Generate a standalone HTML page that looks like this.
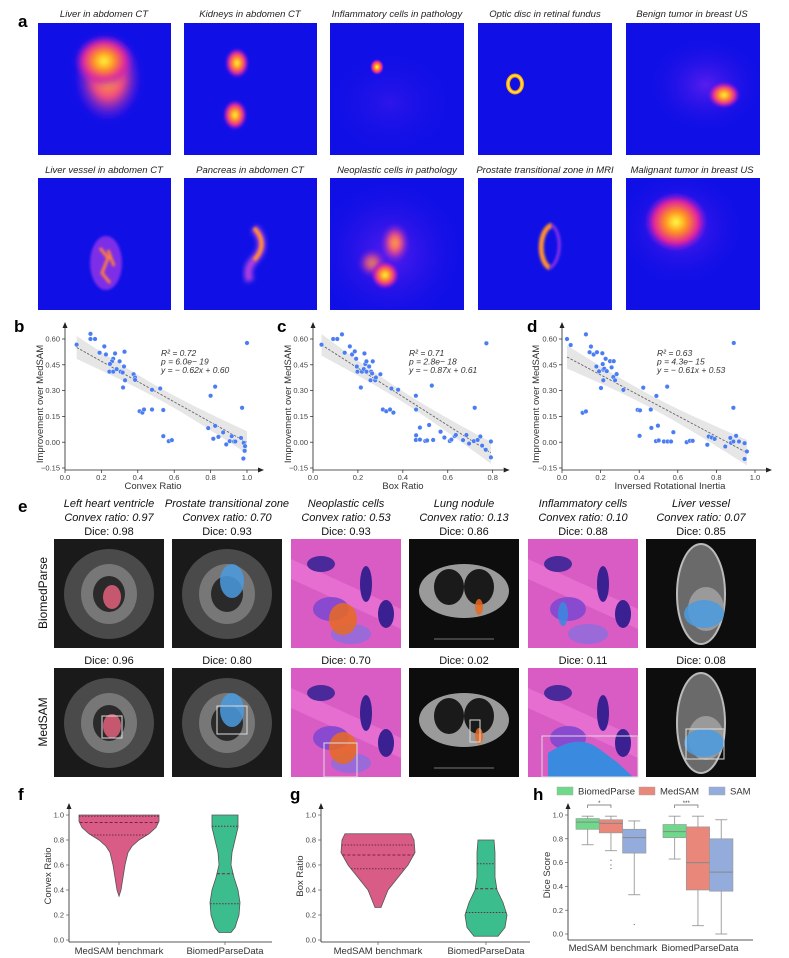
<!DOCTYPE html>
<html><head><meta charset="utf-8"><style>
html,body{margin:0;padding:0;background:#fff;}
svg{display:block;font-family:"Liberation Sans",sans-serif;}
.pl{font-weight:bold;font-size:17px;fill:#000;}
.al{font-style:italic;font-size:9.5px;fill:#222;}
.tk{font-size:7.5px;fill:#444;}
.at{font-size:9.5px;fill:#333;}
.et{font-style:italic;font-size:11px;fill:#111;}
.dc{font-size:11px;fill:#111;}
</style></head><body>
<svg id="fig" width="789" height="958" viewBox="0 0 789 958" xmlns="http://www.w3.org/2000/svg">
<defs>
<radialGradient id="hot"><stop offset="0" stop-color="#ffff40"/><stop offset="0.35" stop-color="#ff9020"/><stop offset="0.7" stop-color="#e020a0"/><stop offset="1" stop-color="#7a18f0" stop-opacity="0"/></radialGradient>
<radialGradient id="warm"><stop offset="0" stop-color="#ffb030"/><stop offset="0.45" stop-color="#f04a80"/><stop offset="1" stop-color="#7a18f0" stop-opacity="0"/></radialGradient>
<radialGradient id="haze"><stop offset="0" stop-color="#6a20f0" stop-opacity="0.8"/><stop offset="1" stop-color="#2a10e8" stop-opacity="0"/></radialGradient>
<filter id="bl" x="-50%" y="-50%" width="200%" height="200%"><feGaussianBlur stdDeviation="2.5"/></filter>
<filter id="bl2" x="-50%" y="-50%" width="200%" height="200%"><feGaussianBlur stdDeviation="1.2"/></filter>
<clipPath id="tile"><rect width="134" height="132"/></clipPath>
</defs>

<!-- Panel a -->
<text class="pl" x="18" y="27">a</text>
<g>
 <g transform="translate(38,23)" clip-path="url(#tile)">
  <rect width="133" height="132" fill="#1010e6"/>
  <ellipse cx="70" cy="55" rx="34" ry="44" fill="url(#warm)" filter="url(#bl)"/>
  <ellipse cx="66" cy="38" rx="30" ry="26" fill="url(#hot)" filter="url(#bl)"/>
 </g>
 <text class="al" x="104" y="17" text-anchor="middle">Liver in abdomen CT</text>
 <g transform="translate(184,23)" clip-path="url(#tile)">
  <rect width="133" height="132" fill="#1010e6"/>
  <ellipse cx="53" cy="40" rx="12" ry="15" fill="url(#hot)" filter="url(#bl2)"/>
  <ellipse cx="51" cy="92" rx="12" ry="15" fill="url(#hot)" filter="url(#bl2)"/>
 </g>
 <text class="al" x="250" y="17" text-anchor="middle">Kidneys in abdomen CT</text>
 <g transform="translate(330,23)" clip-path="url(#tile)">
  <rect width="134" height="132" fill="#1010e6"/>
  <ellipse cx="60" cy="80" rx="60" ry="50" fill="url(#haze)" opacity="0.4"/>
  <ellipse cx="47" cy="44" rx="7" ry="8" fill="url(#hot)"/>
 </g>
 <text class="al" x="397" y="17" text-anchor="middle">Inflammatory cells in pathology</text>
 <g transform="translate(478,23)" clip-path="url(#tile)">
  <rect width="134" height="132" fill="#1010e6"/>
  <ellipse cx="37" cy="61" rx="7" ry="8.5" fill="none" stroke="#ff9a20" stroke-width="4"/>
  <ellipse cx="37" cy="61" rx="7" ry="8.5" fill="none" stroke="#ffee40" stroke-width="1.5"/>
 </g>
 <text class="al" x="545" y="17" text-anchor="middle">Optic disc in retinal fundus</text>
 <g transform="translate(626,23)" clip-path="url(#tile)">
  <rect width="134" height="132" fill="#1010e6"/>
  <ellipse cx="80" cy="62" rx="55" ry="45" fill="url(#haze)"/>
  <ellipse cx="98" cy="72" rx="16" ry="13" fill="url(#hot)" filter="url(#bl2)"/>
 </g>
 <text class="al" x="692" y="17" text-anchor="middle">Benign tumor in breast US</text>

 <g transform="translate(38,178)" clip-path="url(#tile)">
  <rect width="133" height="132" fill="#1010e6"/>
  <ellipse cx="68" cy="85" rx="16" ry="27" fill="#8a30e8" filter="url(#bl2)" opacity="0.9"/>
  <path d="M62 70 L70 80 L64 95 L72 105 M70 72 L76 88" stroke="#ff8040" stroke-width="3" fill="none" filter="url(#bl2)"/>
 </g>
 <text class="al" x="104" y="173" text-anchor="middle">Liver vessel in abdomen CT</text>
 <g transform="translate(184,178)" clip-path="url(#tile)">
  <rect width="133" height="132" fill="#1010e6"/>
  <path d="M70 50 C80 60 80 72 70 82 C62 90 64 98 66 103" stroke="#b040e0" stroke-width="8" fill="none" filter="url(#bl)"/>
  <path d="M70 50 C80 60 80 72 70 82" stroke="#ff9030" stroke-width="4" fill="none" filter="url(#bl2)"/>
 </g>
 <text class="al" x="250" y="173" text-anchor="middle">Pancreas in abdomen CT</text>
 <g transform="translate(330,178)" clip-path="url(#tile)">
  <rect width="134" height="132" fill="#1010e6"/>
  <ellipse cx="60" cy="75" rx="70" ry="70" fill="url(#haze)"/>
  <ellipse cx="65" cy="65" rx="14" ry="20" fill="url(#warm)" filter="url(#bl)"/>
  <ellipse cx="42" cy="85" rx="14" ry="14" fill="url(#warm)" filter="url(#bl)" opacity="0.8"/>
  <ellipse cx="55" cy="97" rx="14" ry="14" fill="url(#hot)" filter="url(#bl2)"/>
 </g>
 <text class="al" x="397" y="173" text-anchor="middle">Neoplastic cells in pathology</text>
 <g transform="translate(478,178)" clip-path="url(#tile)">
  <rect width="134" height="132" fill="#1010e6"/>
  <path d="M74 47 C60 52 60 84 72 90" stroke="#ff9030" stroke-width="5" fill="none" filter="url(#bl2)"/>
  <path d="M74 47 C84 55 84 82 72 90" stroke="#8a30e8" stroke-width="3" fill="none" filter="url(#bl2)"/>
 </g>
 <text class="al" x="545" y="173" text-anchor="middle">Prostate transitional zone in MRI</text>
 <g transform="translate(626,178)" clip-path="url(#tile)">
  <rect width="134" height="132" fill="#1010e6"/>
  <ellipse cx="55" cy="50" rx="60" ry="55" fill="url(#haze)"/>
  <ellipse cx="50" cy="44" rx="32" ry="30" fill="url(#hot)" filter="url(#bl2)"/>
 </g>
 <text class="al" x="692" y="173" text-anchor="middle">Malignant tumor in breast US</text>
</g>

<!-- Panels b c d -->
<text class="pl" x="14" y="332">b</text>
<text class="pl" x="277" y="332">c</text>
<text class="pl" x="527" y="332">d</text>
<g id="scatters"></g>

<!-- Panel e -->
<text class="pl" x="18" y="512">e</text>
<g id="panelE"></g>

<!-- Panels f g h -->
<text class="pl" x="18" y="800">f</text>
<text class="pl" x="290" y="800">g</text>
<text class="pl" x="533" y="800">h</text>
<g id="violins"></g>
<g id="boxes"></g>
</svg>

<script>
// ===== Scatter data (b, c, d) =====
const bX=[0.064,0.14,0.14,0.165,0.19,0.216,0.225,0.275,0.265,0.258,0.247,0.244,0.265,0.284,0.30,0.306,0.317,0.324,0.327,0.33,0.319,0.377,0.385,0.385,0.41,0.425,0.434,0.478,0.478,0.523,0.54,0.54,0.57,0.587,0.80,0.825,0.787,0.815,0.825,0.843,0.869,0.886,0.905,0.916,0.929,0.936,0.967,0.973,0.982,0.989,0.987,0.98,1.0];
const bY=[0.567,0.63,0.60,0.60,0.52,0.557,0.51,0.516,0.485,0.47,0.455,0.41,0.41,0.425,0.47,0.41,0.405,0.44,0.526,0.36,0.318,0.395,0.376,0.362,0.18,0.172,0.19,0.305,0.19,0.312,0.187,0.035,0.006,0.012,0.27,0.323,0.082,0.02,0.095,0.031,0.057,-0.013,0.006,0.035,0.004,0.004,0.025,0.20,-0.004,-0.023,-0.05,-0.095,0.577];
const cX=[0.038,0.09,0.108,0.129,0.141,0.164,0.174,0.186,0.192,0.195,0.198,0.213,0.218,0.226,0.229,0.233,0.238,0.238,0.25,0.256,0.259,0.266,0.263,0.277,0.28,0.30,0.311,0.326,0.343,0.358,0.349,0.379,0.458,0.459,0.459,0.458,0.476,0.476,0.5,0.508,0.517,0.529,0.535,0.568,0.585,0.609,0.616,0.631,0.636,0.668,0.683,0.695,0.716,0.72,0.733,0.745,0.753,0.769,0.772,0.792,0.792];
const cY=[0.567,0.60,0.60,0.627,0.52,0.557,0.51,0.528,0.485,0.44,0.41,0.318,0.41,0.425,0.516,0.455,0.47,0.41,0.44,0.36,0.41,0.47,0.40,0.36,0.376,0.395,0.19,0.18,0.19,0.172,0.312,0.305,0.27,0.19,0.04,0.013,0.085,0.015,0.007,0.01,0.10,0.329,0.013,0.061,0.027,0.007,0.015,0.035,0.042,0.012,0.042,-0.008,0.006,0.20,0.013,0.033,-0.02,-0.044,0.575,0.004,-0.088];
const dX=[0.026,0.045,0.124,0.143,0.150,0.164,0.181,0.209,0.178,0.192,0.211,0.214,0.214,0.219,0.226,0.232,0.249,0.257,0.268,0.266,0.275,0.283,0.202,0.318,0.107,0.124,0.392,0.404,0.421,0.402,0.46,0.463,0.489,0.497,0.487,0.501,0.528,0.545,0.547,0.565,0.577,0.646,0.663,0.677,0.753,0.76,0.776,0.791,0.846,0.872,0.876,0.89,0.888,0.888,0.902,0.917,0.946,0.946,0.958];
const dY=[0.60,0.565,0.627,0.523,0.556,0.51,0.523,0.517,0.44,0.412,0.454,0.421,0.36,0.427,0.485,0.413,0.471,0.435,0.471,0.379,0.36,0.396,0.315,0.304,0.171,0.179,0.188,0.185,0.317,0.037,0.19,0.083,0.269,0.096,0.006,0.01,0.004,0.323,0.004,0.004,0.058,0.0,0.008,0.008,-0.015,0.033,0.027,0.019,-0.025,0.025,-0.004,0.577,0.2,0.004,0.037,0.004,-0.006,-0.098,-0.054];
const yTicks=[0.60,0.45,0.30,0.15,0.00,-0.15];
const bTicks=[0.0,0.2,0.4,0.6,0.8,1.0];
const cTicks=[0.0,0.2,0.4,0.6,0.8];
const dTicks=[0.0,0.2,0.4,0.6,0.8,1.0];
const statsB=["R² = 0.72","p = 6.0e− 19","y = − 0.62x + 0.60"];
const statsC=["R² = 0.71","p = 2.8e− 18","y = − 0.87x + 0.61"];
const statsD=["R² = 0.63","p = 4.3e− 15","y = −  0.61x + 0.53"];

const NS="http://www.w3.org/2000/svg";
function mk(tag,attrs,parent){const e=document.createElementNS(NS,tag);for(const k in attrs)e.setAttribute(k,attrs[k]);if(parent)parent.appendChild(e);return e;}
function txt(s,attrs,parent){const e=mk('text',attrs,parent);e.textContent=s;return e;}

function scatter(id,xs,ys,x0,xs1,ticks,xTitle,xTitleX,yTitleX,stats,statX){
  const g=mk('g',{},document.getElementById('scatters'));
  
  
  const X=v=>x0+v*xs1, Y=v=>339+(0.6-v)*172;
  const n=xs.length; let mx=0,my=0; xs.forEach((v,i)=>{mx+=v;my+=ys[i];}); mx/=n; my/=n;
  let sxx=0,sxy=0; xs.forEach((v,i)=>{sxx+=(v-mx)**2;sxy+=(v-mx)*(ys[i]-my);});
  const sl=sxy/sxx, ic=my-sl*mx; let sse=0; xs.forEach((v,i)=>{sse+=(ys[i]-(ic+sl*v))**2;});
  const s=Math.sqrt(sse/(n-2));
  const lo=Math.min(...xs), hi=Math.max(...xs); let up=[],dn=[];
  for(let k=0;k<=40;k++){const v=lo+(hi-lo)*k/40;const h=2.0*s*Math.sqrt(1/n+(v-mx)**2/sxx);const f=ic+sl*v;up.push(X(v)+','+Y(f+h));dn.unshift(X(v)+','+Y(f-h));}
  const band=mk('polygon',{points:up.concat(dn).join(' '),fill:'#e6e6e6'},g);
  
  
  const ln=mk('line',{x1:X(lo),y1:Y(ic+sl*lo),x2:X(hi),y2:Y(ic+sl*hi),stroke:'#666','stroke-width':0.9,'stroke-dasharray':'2.5,1.5'},g);
  
  
  const xe=X(ticks[ticks.length-1])+11;
  mk('line',{x1:x0,y1:470,x2:x0,y2:328,stroke:'#222','stroke-width':0.8},g);
  mk('polygon',{points:`${x0-2.5},328 ${x0+2.5},328 ${x0},322`,fill:'#222'},g);
  mk('line',{x1:x0,y1:470,x2:xe,y2:470,stroke:'#222','stroke-width':0.8},g);
  mk('polygon',{points:`${xe},467.5 ${xe},472.5 ${xe+6},470`,fill:'#222'},g);
  yTicks.forEach(t=>{mk('line',{x1:x0-3,y1:Y(t),x2:x0,y2:Y(t),stroke:'#222','stroke-width':0.7},g);
    const l=txt(t.toFixed(2).replace('-','−'),{class:'tk',x:x0-5,y:Y(t)+2.6,'text-anchor':'end'},g);
    
    });
  ticks.forEach(t=>{mk('line',{x1:X(t),y1:470,x2:X(t),y2:473,stroke:'#222','stroke-width':0.7},g);
    const l=txt(t.toFixed(1),{class:'tk',x:X(t),y:480,'text-anchor':'middle'},g);
    
    });
  const xt=txt(xTitle,{class:'at',x:xTitleX,y:489,'text-anchor':'middle'},g);
  
  
  const yt=txt('Improvement over MedSAM',{class:'at',transform:`translate(${yTitleX},404) rotate(-90)`,'text-anchor':'middle'},g);
  
  
  xs.forEach((v,i)=>{const p=mk('circle',{cx:X(v),cy:Y(ys[i]),r:2.3,fill:'#4a7cf2',stroke:'#fff','stroke-width':0.4},g);
    
    });
  stats.forEach((s,i)=>{const t=txt(s,{x:statX,y:356+i*8.5,'font-size':'8.5px',fill:'#333','font-style':'italic'},g);
    
    });
}
scatter('b',bX,bY,65,182,bTicks,'Convex Ratio',153,43,statsB,161);
scatter('c',cX,cY,313,224.6,cTicks,'Box Ratio',403,291,statsC,409);
scatter('d',dX,dY,562,193,dTicks,'Inversed Rotational Inertia',670,539,statsD,657);

// ===== Panel e =====
const eTitles=['Left heart ventricle','Prostate transitional zone','Neoplastic cells','Lung nodule','Inflammatory cells','Liver vessel'];
const eConvex=['0.97','0.70','0.53','0.13','0.10','0.07'];
const eDiceBP=['0.98','0.93','0.93','0.86','0.88','0.85'];
const eDiceMS=['0.96','0.80','0.70','0.02','0.11','0.08'];
const eCols=[54,172,291,409,528,646];
const eKinds=['mri','mri2','path','ct','path','ct2'];
(function(){
 const G=document.getElementById('panelE');
 const rl1=txt('BiomedParse',{transform:'translate(47,593) rotate(-90)','text-anchor':'middle','font-size':'12px',fill:'#111'},G);
 
 
 const rl2=txt('MedSAM',{transform:'translate(47,722) rotate(-90)','text-anchor':'middle','font-size':'12px',fill:'#111'},G);
 
 
 eCols.forEach((x,i)=>{
  const cx=x+55;
  const t1=txt(eTitles[i],{class:'et',x:cx,y:507,'text-anchor':'middle'},G);
  
  
  const t2=txt('Convex ratio: '+eConvex[i],{class:'et',x:cx,y:521,'text-anchor':'middle'},G);
  
  
  const t3=txt('Dice: '+eDiceBP[i],{class:'dc',x:cx,y:535,'text-anchor':'middle'},G);
  
  
  const t4=txt('Dice: '+eDiceMS[i],{class:'dc',x:cx,y:664,'text-anchor':'middle'},G);
  
  
  [539,668].forEach((y,r)=>{
   const g=mk('g',{transform:`translate(${x},${y})`},G);
   
   
   const k=eKinds[i];
   if(k==='path'){
     mk('rect',{width:110,height:109,fill:'#d85cc4'},g);
     mk('path',{d:'M0 20 L110 70 L110 90 L0 40Z',fill:'#ee7ad8',opacity:0.6},g);
     mk('ellipse',{cx:30,cy:25,rx:14,ry:8,fill:'#4a2a9a'},g);
     mk('ellipse',{cx:75,cy:45,rx:6,ry:18,fill:'#3a2090'},g);
     mk('ellipse',{cx:40,cy:70,rx:18,ry:12,fill:'#8a4ad0'},g);
     mk('ellipse',{cx:95,cy:75,rx:8,ry:14,fill:'#3a2090'},g);
     mk('ellipse',{cx:60,cy:95,rx:20,ry:10,fill:'#9a6ad8'},g);
   } else if(k==='ct'||k==='ct2'){
     mk('rect',{width:110,height:109,fill:'#0d0d0d'},g);
     if(k==='ct'){mk('ellipse',{cx:55,cy:52,rx:45,ry:27,fill:'#9a9a9a'},g);
       mk('ellipse',{cx:40,cy:48,rx:15,ry:18,fill:'#1a1a1a'},g);mk('ellipse',{cx:70,cy:48,rx:15,ry:18,fill:'#1a1a1a'},g);
       mk('line',{x1:25,y1:100,x2:85,y2:100,stroke:'#777','stroke-width':1},g);}
     else {mk('ellipse',{cx:55,cy:55,rx:24,ry:50,fill:'#6a6a6a',stroke:'#bbb','stroke-width':2},g);
       mk('ellipse',{cx:60,cy:70,rx:18,ry:22,fill:'#9a9a9a'},g);}
   } else {
     mk('rect',{width:110,height:109,fill:'#1a1a1a'},g);
     mk('ellipse',{cx:55,cy:55,rx:45,ry:45,fill:'#4a4a4a'},g);
     mk('ellipse',{cx:55,cy:55,rx:28,ry:30,fill:'#777'},g);
     mk('ellipse',{cx:55,cy:55,rx:16,ry:18,fill:'#2a2a2a'},g);
   }
   const seg=[[58,58,9,12,'#e0607a'],[60,42,12,17,'#4a9ae0'],[52,80,14,16,'#e86a20'],[70,68,4,8,'#e86a20'],[35,75,5,12,'#3a8ae0'],[58,75,20,14,'#4a9ae0']][i];
   if(r===0||i!==4){
     const s=mk('ellipse',{cx:seg[0],cy:seg[1],rx:seg[2],ry:seg[3],fill:seg[4],opacity:0.85},g);
     
     
   } else {
     mk('path',{d:'M20 109 L20 85 Q50 65 70 80 L90 95 L105 109Z',fill:'#3a8ae0'},g);
   }
   if(r===1){
     const b=[[48,48,20,22],[45,38,30,28],[33,75,33,34],[61,52,10,22],[14,68,96,41],[40,61,38,30]][i];
     const bx=mk('rect',{x:b[0],y:b[1],width:b[2],height:b[3],fill:'none',stroke:'#ddd','stroke-width':1},g);
     
     
   }
  });
 });
})();

// ===== Violin data (f, g) =====
const violinCats=['MedSAM benchmark','BiomedParseData'];
const fLevels1=[0.35,0.4,0.5,0.6,0.7,0.75,0.8,0.85,0.9,0.95,1.0];
const fWidth1=[0,2,4,6,9,13,20,30,37,40,40];
const fLevels2=[0.06,0.1,0.2,0.3,0.4,0.5,0.6,0.7,0.8,0.9,1.0];
const fWidth2=[6,10,14,15,13,9,6,7,10,13,13];
const fQuart1=[0.84,0.94,0.99];
const fQuart2=[0.29,0.53,0.91];
const gLevels1=[0.26,0.3,0.4,0.5,0.6,0.7,0.8,0.85];
const gWidth1=[3,5,10,20,30,37,36,33];
const gLevels2=[0.03,0.1,0.2,0.3,0.4,0.5,0.6,0.7,0.8];
const gWidth2=[12,19,21,17,11,9,9,9,8];
const gQuart1=[0.57,0.68,0.76];
const gQuart2=[0.22,0.41,0.61];
const vTicks=[0.0,0.2,0.4,0.6,0.8,1.0];

function violinPanel(name,ax,cx1,cx2,xEnd,yTitle,L1,W1,Q1,L2,W2,Q2){
  const g=mk('g',{},document.getElementById('violins'));
  
  
  const Y=v=>940-v*125;
  mk('line',{x1:ax,y1:942,x2:ax,y2:808,stroke:'#222','stroke-width':0.8},g);
  mk('polygon',{points:`${ax-2.5},809 ${ax+2.5},809 ${ax},803`,fill:'#222'},g);
  mk('line',{x1:ax,y1:942,x2:xEnd,y2:942,stroke:'#222','stroke-width':0.8},g);
  vTicks.forEach(t=>{mk('line',{x1:ax-3,y1:Y(t),x2:ax,y2:Y(t),stroke:'#444','stroke-width':0.6},g);
    const l=txt(t.toFixed(1),{class:'tk',x:ax-5,y:Y(t)+2.6,'text-anchor':'end'},g);
    
    });
  const yt=txt(yTitle,{class:'at',transform:`translate(${ax-18},876) rotate(-90)`,'text-anchor':'middle'},g);
  
  
  [[cx1,L1,W1,Q1,'#d95c86'],[cx2,L2,W2,Q2,'#3cbd8e']].forEach((c,j)=>{
    const [cx,L,W,Q,col]=c;
    let r=[],l=[];
    L.forEach((v,i)=>{r.push((cx+W[i])+','+Y(v));l.unshift((cx-W[i])+','+Y(v));});
    const p=mk('polygon',{points:r.concat(l).join(' '),fill:col,stroke:'#555','stroke-width':0.8},g);
    
    
    Q.forEach((q,qi)=>{
      let w=0;for(let i=0;i<L.length-1;i++){if(q>=L[i]&&q<=L[i+1]){const f=(q-L[i])/(L[i+1]-L[i]);w=W[i]+(W[i+1]-W[i])*f;}}
      mk('line',{x1:cx-w,y1:Y(q),x2:cx+w,y2:Y(q),stroke:qi===1?'#7a2040':'#6a2a4a','stroke-width':0.9,'stroke-dasharray':qi===1?'3,2':'1.5,1.5'},g);
    });
    mk('line',{x1:cx,y1:942,x2:cx,y2:945,stroke:'#444','stroke-width':0.6},g);
    const lab=txt(violinCats[j],{class:'at',x:cx,y:954,'text-anchor':'middle'},g);
    
    
  });
}
violinPanel('violin-chart-f',69,119,225,272,'Convex Ratio',fLevels1,fWidth1,fQuart1,fLevels2,fWidth2,fQuart2);
violinPanel('violin-chart-g',321,378,486,530,'Box Ratio',gLevels1,gWidth1,gQuart1,gLevels2,gWidth2,gQuart2);

// ===== Box plot data (h) =====
const hGroups=['MedSAM benchmark','BiomedParseData'];
const hSeries=['BiomedParse','MedSAM','SAM'];
const hWhiskLo=[[0.75,0.70,0.33],[0.63,0.07,0.0]];
const hQ1=[[0.88,0.85,0.68],[0.81,0.37,0.36]];
const hMed=[[0.94,0.93,0.81],[0.86,0.60,0.52]];
const hQ3=[[0.97,0.96,0.88],[0.92,0.90,0.80]];
const hWhiskHi=[[0.99,0.99,0.95],[0.99,0.99,0.96]];
const hOutliers=[[[],[0.62,0.58,0.55],[0.08]],[[],[],[]]];
const hSig=['*','***'];
const hTicks=[0.0,0.2,0.4,0.6,0.8,1.0];
(function(){
 const g=document.getElementById('boxes');
 
 
 const ax=568, Y=v=>934-v*119;
 const cols=['#6fd98a','#e8877a','#93acdc'];
 const gx=[576,663], bw=23.3;
 mk('line',{x1:ax,y1:940,x2:ax,y2:808,stroke:'#222','stroke-width':0.8},g);
 mk('polygon',{points:`${ax-2.5},809 ${ax+2.5},809 ${ax},803`,fill:'#222'},g);
 mk('line',{x1:ax,y1:940,x2:753,y2:940,stroke:'#222','stroke-width':0.8},g);
 hTicks.forEach(t=>{mk('line',{x1:ax-3,y1:Y(t),x2:ax,y2:Y(t),stroke:'#444','stroke-width':0.6},g);
   const l=txt(t.toFixed(1),{class:'tk',x:ax-5,y:Y(t)+2.6,'text-anchor':'end'},g);
   
   });
 const yt=txt('Dice Score',{class:'at',transform:`translate(${ax-18},875) rotate(-90)`,'text-anchor':'middle'},g);
 
 
 hGroups.forEach((name,gi)=>{
  hSeries.forEach((s,si)=>{
   const x=gx[gi]+si*bw, cx=x+bw/2;
   mk('line',{x1:cx,y1:Y(hWhiskLo[gi][si]),x2:cx,y2:Y(hQ1[gi][si]),stroke:'#999','stroke-width':0.9},g);
   mk('line',{x1:cx,y1:Y(hWhiskHi[gi][si]),x2:cx,y2:Y(hQ3[gi][si]),stroke:'#999','stroke-width':0.9},g);
   mk('line',{x1:cx-6,y1:Y(hWhiskLo[gi][si]),x2:cx+6,y2:Y(hWhiskLo[gi][si]),stroke:'#999','stroke-width':0.9},g);
   mk('line',{x1:cx-6,y1:Y(hWhiskHi[gi][si]),x2:cx+6,y2:Y(hWhiskHi[gi][si]),stroke:'#999','stroke-width':0.9},g);
   const b=mk('rect',{x:x,y:Y(hQ3[gi][si]),width:bw,height:Y(hQ1[gi][si])-Y(hQ3[gi][si]),fill:cols[si],stroke:'#999','stroke-width':0.7},g);
   
   
   mk('line',{x1:x,y1:Y(hMed[gi][si]),x2:x+bw,y2:Y(hMed[gi][si]),stroke:'#888','stroke-width':1},g);
   hOutliers[gi][si].forEach(o=>{mk('circle',{cx:cx,cy:Y(o),r:0.6,fill:'#666'},g);});
  });
  const x1=gx[gi]+bw/2, x2=gx[gi]+bw*1.5;
  mk('path',{d:`M${x1} 808 L${x1} 805 L${x2} 805 L${x2} 808`,fill:'none',stroke:'#666','stroke-width':0.7},g);
  txt(hSig[gi],{x:(x1+x2)/2,y:805,'text-anchor':'middle','font-size':'6px',fill:'#444'},g);
  const lab=txt(name,{class:'at',x:gx[gi]+bw*1.5+2,y:951,'text-anchor':'middle'},g);
  
  
 });
 const lx=[557,639,709];
 hSeries.forEach((s,si)=>{
  const r=mk('rect',{x:lx[si],y:787,width:16,height:8,fill:cols[si],stroke:'#aaa','stroke-width':0.5},g);
  
  
  const t=txt(s,{class:'at',x:lx[si]+21,y:794.5},g);
  
  
 });
})();
</script>
</body></html>
